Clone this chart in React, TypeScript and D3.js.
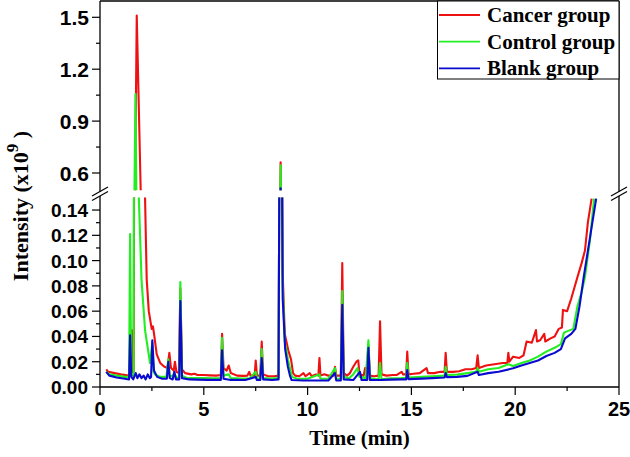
import React from "react";
import * as d3 from "d3";

type Pt = [number, number];

const cancer: Pt[] = [
  [0.3, 0.014], [0.4, 0.012], [0.7, 0.011], [1.0, 0.01], [1.38, 0.009], [1.45, 0.011], [1.52, 0.045], [1.56, 0.012],
  [1.62, 0.012], [1.68, 0.4], [1.77, 1.51], [1.96, 0.5], [2.17, 0.15], [2.25, 0.085], [2.35, 0.06], [2.49, 0.046],
  [2.55, 0.048], [2.62, 0.04], [2.73, 0.026], [2.9, 0.019], [3.1, 0.016], [3.25, 0.015], [3.34, 0.027], [3.42, 0.015],
  [3.55, 0.013], [3.61, 0.02], [3.68, 0.012], [3.8, 0.011], [3.87, 0.078], [3.95, 0.014], [4.1, 0.011], [4.4, 0.01],
  [4.55, 0.0105], [4.7, 0.0095], [5.0, 0.0095], [5.3, 0.0092], [5.6, 0.009], [5.82, 0.0095], [5.88, 0.042], [5.95, 0.015],
  [6.1, 0.013], [6.2, 0.017], [6.3, 0.011], [6.6, 0.009], [6.9, 0.0088], [7.1, 0.009], [7.19, 0.012], [7.25, 0.009],
  [7.45, 0.009], [7.5, 0.021], [7.56, 0.009], [7.72, 0.009], [7.79, 0.036], [7.86, 0.01], [8.1, 0.0085], [8.4, 0.0085],
  [8.6, 0.009], [8.67, 0.3], [8.7, 0.662], [8.73, 0.3], [8.8, 0.09], [8.9, 0.042], [9.07, 0.029], [9.2, 0.022],
  [9.3, 0.011], [9.4, 0.009], [9.6, 0.0085], [9.8, 0.011], [9.9, 0.0085], [10.1, 0.011], [10.2, 0.0085], [10.4, 0.01],
  [10.52, 0.009], [10.57, 0.023], [10.62, 0.009], [10.8, 0.01], [11.0, 0.009], [11.25, 0.009], [11.32, 0.016], [11.38, 0.009],
  [11.6, 0.009], [11.67, 0.098], [11.74, 0.011], [11.9, 0.009], [12.04, 0.011], [12.2, 0.016], [12.35, 0.02], [12.44, 0.021],
  [12.5, 0.01], [12.7, 0.009], [12.77, 0.015], [12.83, 0.009], [12.93, 0.033], [13.0, 0.009], [13.2, 0.0085], [13.42, 0.009],
  [13.49, 0.052], [13.56, 0.01], [13.8, 0.009], [14.1, 0.0095], [14.3, 0.0095], [14.53, 0.012], [14.6, 0.01], [14.75, 0.01],
  [14.8, 0.028], [14.86, 0.01], [15.1, 0.0105], [15.4, 0.011], [15.73, 0.015], [15.8, 0.011], [16.1, 0.011], [16.4, 0.012],
  [16.6, 0.012], [16.65, 0.027], [16.71, 0.012], [17.0, 0.012], [17.3, 0.0125], [17.6, 0.014], [17.9, 0.014], [18.12, 0.015],
  [18.19, 0.025], [18.25, 0.015], [18.6, 0.017], [19.0, 0.018], [19.4, 0.019], [19.62, 0.019], [19.67, 0.027], [19.72, 0.02],
  [19.9, 0.024], [20.2, 0.023], [20.4, 0.025], [20.55, 0.036], [20.8, 0.035], [21.0, 0.045], [21.05, 0.036], [21.2, 0.037],
  [21.4, 0.042], [21.45, 0.036], [21.7, 0.0385], [21.9, 0.04], [22.1, 0.046], [22.25, 0.047], [22.3, 0.061], [22.5, 0.06],
  [22.7, 0.07], [23.0, 0.087], [23.2, 0.098], [23.36, 0.108], [23.5, 0.13], [23.68, 0.149],
];

const control: Pt[] = [
  [0.3, 0.012], [0.45, 0.01], [0.8, 0.009], [1.2, 0.008], [1.4, 0.008], [1.45, 0.121], [1.5, 0.009], [1.62, 0.009],
  [1.66, 0.5], [1.71, 1.056], [1.75, 0.5], [1.87, 0.15], [2.0, 0.085], [2.17, 0.045], [2.41, 0.019], [2.52, 0.035],
  [2.58, 0.012], [2.65, 0.01], [2.9, 0.008], [3.2, 0.008], [3.29, 0.022], [3.36, 0.008], [3.6, 0.01], [3.7, 0.007],
  [3.82, 0.008], [3.87, 0.083], [3.95, 0.009], [4.2, 0.007], [4.6, 0.007], [5.0, 0.007], [5.4, 0.0068], [5.82, 0.007],
  [5.88, 0.039], [5.95, 0.009], [6.2, 0.01], [6.3, 0.007], [6.8, 0.0066], [7.2, 0.0066], [7.5, 0.012], [7.56, 0.0066],
  [7.72, 0.0066], [7.79, 0.03], [7.86, 0.007], [8.2, 0.0066], [8.6, 0.007], [8.67, 0.3], [8.7, 0.645], [8.73, 0.3],
  [8.8, 0.08], [8.9, 0.036], [9.05, 0.022], [9.15, 0.015], [9.25, 0.008], [9.5, 0.0065], [10.0, 0.0065], [10.57, 0.01],
  [10.62, 0.0065], [11.0, 0.0065], [11.32, 0.015], [11.38, 0.0065], [11.6, 0.0065], [11.67, 0.076], [11.74, 0.008], [12.0, 0.007],
  [12.2, 0.01], [12.4, 0.015], [12.5, 0.008], [12.8, 0.007], [12.93, 0.037], [13.0, 0.007], [13.42, 0.006], [13.49, 0.019],
  [13.56, 0.006], [14.0, 0.0068], [14.5, 0.007], [14.75, 0.0072], [14.8, 0.019], [14.86, 0.0074], [15.5, 0.008], [16.0, 0.0085],
  [16.6, 0.009], [16.65, 0.016], [16.71, 0.0095], [17.2, 0.0098], [17.7, 0.011], [18.12, 0.012], [18.19, 0.015], [18.25, 0.012],
  [18.7, 0.014], [19.2, 0.015], [19.67, 0.018], [19.9, 0.0166], [20.3, 0.019], [20.7, 0.021], [21.1, 0.024], [21.5, 0.028],
  [21.9, 0.031], [22.2, 0.034], [22.35, 0.043], [22.5, 0.044], [22.8, 0.046], [23.0, 0.064], [23.2, 0.075], [23.36, 0.087],
  [23.6, 0.116], [23.8, 0.149],
];

const blank: Pt[] = [
  [0.3, 0.012], [0.45, 0.009], [0.8, 0.0075], [1.2, 0.0065], [1.4, 0.006], [1.45, 0.041], [1.51, 0.008], [1.6, 0.006],
  [1.72, 0.011], [1.8, 0.007], [1.9, 0.01], [2.0, 0.007], [2.1, 0.009], [2.2, 0.006], [2.3, 0.01], [2.4, 0.007],
  [2.46, 0.008], [2.52, 0.037], [2.6, 0.013], [2.75, 0.008], [3.0, 0.0065], [3.22, 0.0065], [3.29, 0.02], [3.36, 0.007],
  [3.5, 0.006], [3.58, 0.012], [3.66, 0.006], [3.82, 0.006], [3.87, 0.068], [3.95, 0.007], [4.3, 0.006], [4.7, 0.0058],
  [5.2, 0.0056], [5.82, 0.0056], [5.88, 0.029], [5.95, 0.0065], [6.3, 0.0056], [7.0, 0.0055], [7.5, 0.008], [7.56, 0.0055],
  [7.72, 0.0055], [7.79, 0.023], [7.86, 0.006], [8.3, 0.0055], [8.6, 0.006], [8.67, 0.3], [8.7, 0.512], [8.73, 0.3],
  [8.8, 0.07], [8.92, 0.03], [9.05, 0.016], [9.15, 0.009], [9.23, 0.0055], [9.8, 0.0052], [10.5, 0.0052], [11.0, 0.0052],
  [11.32, 0.011], [11.38, 0.0052], [11.6, 0.0052], [11.67, 0.065], [11.74, 0.006], [12.2, 0.0055], [12.52, 0.012], [12.6, 0.0055],
  [12.87, 0.0055], [12.93, 0.031], [13.0, 0.0055], [13.5, 0.0055], [14.0, 0.0058], [14.5, 0.006], [14.75, 0.006], [14.8, 0.0135],
  [14.86, 0.0062], [15.5, 0.0066], [16.0, 0.007], [16.6, 0.0075], [16.65, 0.011], [16.71, 0.0078], [17.2, 0.008], [17.7, 0.0088],
  [18.19, 0.012], [18.25, 0.0095], [18.7, 0.011], [19.2, 0.012], [19.9, 0.0148], [20.3, 0.017], [20.7, 0.019], [21.1, 0.021],
  [21.5, 0.0245], [21.9, 0.027], [22.2, 0.03], [22.4, 0.0385], [22.7, 0.042], [22.9, 0.046], [23.1, 0.064], [23.3, 0.087],
  [23.6, 0.118], [23.9, 0.149],
];

const seriesNames = ["Cancer group", "Control group", "Blank group"];
const seriesColors = ["#ee1111", "#22ee22", "#0b0bd0"];
const xTicks = [0, 5, 10, 15, 20, 25];
const xMinorTicks = [2.5, 7.5, 12.5, 17.5, 22.5];
const yTopTicks = [0.6, 0.9, 1.2, 1.5];
const yTopMinorTicks = [0.75, 1.05, 1.35];
const yBotTicks = [0, 0.02, 0.04, 0.06, 0.08, 0.1, 0.12, 0.14];
const yBotMinorTicks = [0.01, 0.03, 0.05, 0.07, 0.09, 0.11, 0.13];

const SANS = "'Liberation Sans', Arial, sans-serif";
const SERIF = "'Liberation Serif', 'Times New Roman', serif";

export default function App() {
  const L = 100, R = 619, B = 387, T = 1;
  const topLow = 190.3, botHigh = 197.4;
  const x = d3.scaleLinear().domain([0, 25]).range([L, R]);
  const yB = d3.scaleLinear().domain([0, 0.15]).range([B, botHigh]);
  const yT = d3.scaleLinear().domain([0.5, 1.6]).range([topLow, 0]);
  const lineB = d3.line<Pt>().x((d) => x(d[0])).y((d) => yB(d[1]));
  const lineT = d3.line<Pt>().x((d) => x(d[0])).y((d) => yT(d[1]));
  const all = [cancer, control, blank];
  const fB = d3.format(".2f");
  const fT = d3.format(".1f");

  const breakMarks = (cx: number) => (
    <g stroke="#000" strokeWidth={1.2}>
      <line x1={cx - 8} y1={196} x2={cx + 8} y2={187} />
      <line x1={cx - 8} y1={200.5} x2={cx + 8} y2={191.5} />
    </g>
  );

  return (
    <svg width={630} height={457} style={{ position: "absolute", left: 0, top: 0, background: "#fff" }}>
      <defs>
        <clipPath id="clipTop">
          <rect x={L} y={0} width={R - L} height={topLow} />
        </clipPath>
        <clipPath id="clipBot">
          <rect x={L} y={botHigh} width={R - L} height={B - botHigh} />
        </clipPath>
      </defs>

      <g clipPath="url(#clipBot)" fill="none" strokeWidth={2.1} strokeLinejoin="round">
        {all.map((s, i) => (
          <path key={i} d={lineB(s) || ""} stroke={seriesColors[i]} />
        ))}
      </g>
      <g clipPath="url(#clipTop)" fill="none" strokeWidth={2.1} strokeLinejoin="round">
        {all.map((s, i) => (
          <path key={i} d={lineT(s) || ""} stroke={seriesColors[i]} />
        ))}
      </g>

      <g stroke="#000" strokeWidth={1.3} fill="none">
        <line x1={L} y1={T} x2={R} y2={T} />
        <line x1={L} y1={B} x2={R} y2={B} />
        <line x1={L} y1={T} x2={L} y2={191.5} />
        <line x1={L} y1={196} x2={L} y2={B} />
        <line x1={R} y1={T} x2={R} y2={191.5} />
        <line x1={R} y1={196} x2={R} y2={B} />
      </g>
      {breakMarks(L)}
      {breakMarks(R)}

      <g stroke="#000" strokeWidth={1.2}>
        {xTicks.map((t) => (
          <line key={t} x1={x(t)} x2={x(t)} y1={B} y2={B + 8} />
        ))}
        {xMinorTicks.map((t) => (
          <line key={t} x1={x(t)} x2={x(t)} y1={B} y2={B + 4} />
        ))}
        {yBotTicks.map((t) => (
          <line key={t} x1={L - 8} x2={L} y1={yB(t)} y2={yB(t)} />
        ))}
        {yBotMinorTicks.map((t) => (
          <line key={t} x1={L - 4} x2={L} y1={yB(t)} y2={yB(t)} />
        ))}
        {yTopTicks.map((t) => (
          <line key={t} x1={L - 8} x2={L} y1={yT(t)} y2={yT(t)} />
        ))}
        {yTopMinorTicks.map((t) => (
          <line key={t} x1={L - 4} x2={L} y1={yT(t)} y2={yT(t)} />
        ))}
      </g>

      <g fontFamily={SANS} fontWeight="bold" fill="#000">
        {xTicks.map((t) => (
          <text key={t} x={x(t)} y={416} fontSize={20} textAnchor="middle">
            {t}
          </text>
        ))}
        {yBotTicks.map((t) => (
          <text key={t} x={88} y={yB(t) + 7} fontSize={19} textAnchor="end">
            {fB(t)}
          </text>
        ))}
        {yTopTicks.map((t) => (
          <text key={t} x={89} y={yT(t) + 7.5} fontSize={21} textAnchor="end">
            {fT(t)}
          </text>
        ))}
      </g>

      <text x={(L + R) / 2} y={445} fontFamily={SERIF} fontWeight="bold" fontSize={21} textAnchor="middle">
        Time (min)
      </text>
      <text
        transform="translate(28,206) rotate(-90)"
        fontFamily={SERIF}
        fontWeight="bold"
        fontSize={22}
        textAnchor="middle"
      >
        Intensity (x10
        <tspan fontSize={17} dy={-10}>9</tspan>
        <tspan dy={10}> )</tspan>
      </text>

      <rect x={437.5} y={T} width={R - 437.5} height={78} fill="#fff" stroke="#000" strokeWidth={1} />
      {seriesNames.map((n, i) => {
        const ly = 15 + i * 26.7;
        return (
          <g key={n}>
            <line x1={439} x2={480} y1={ly} y2={ly} stroke={seriesColors[i]} strokeWidth={1.8} />
            <text x={487} y={ly + 7} fontFamily={SERIF} fontWeight="bold" fontSize={21}>
              {n}
            </text>
          </g>
        );
      })}
    </svg>
  );
}
